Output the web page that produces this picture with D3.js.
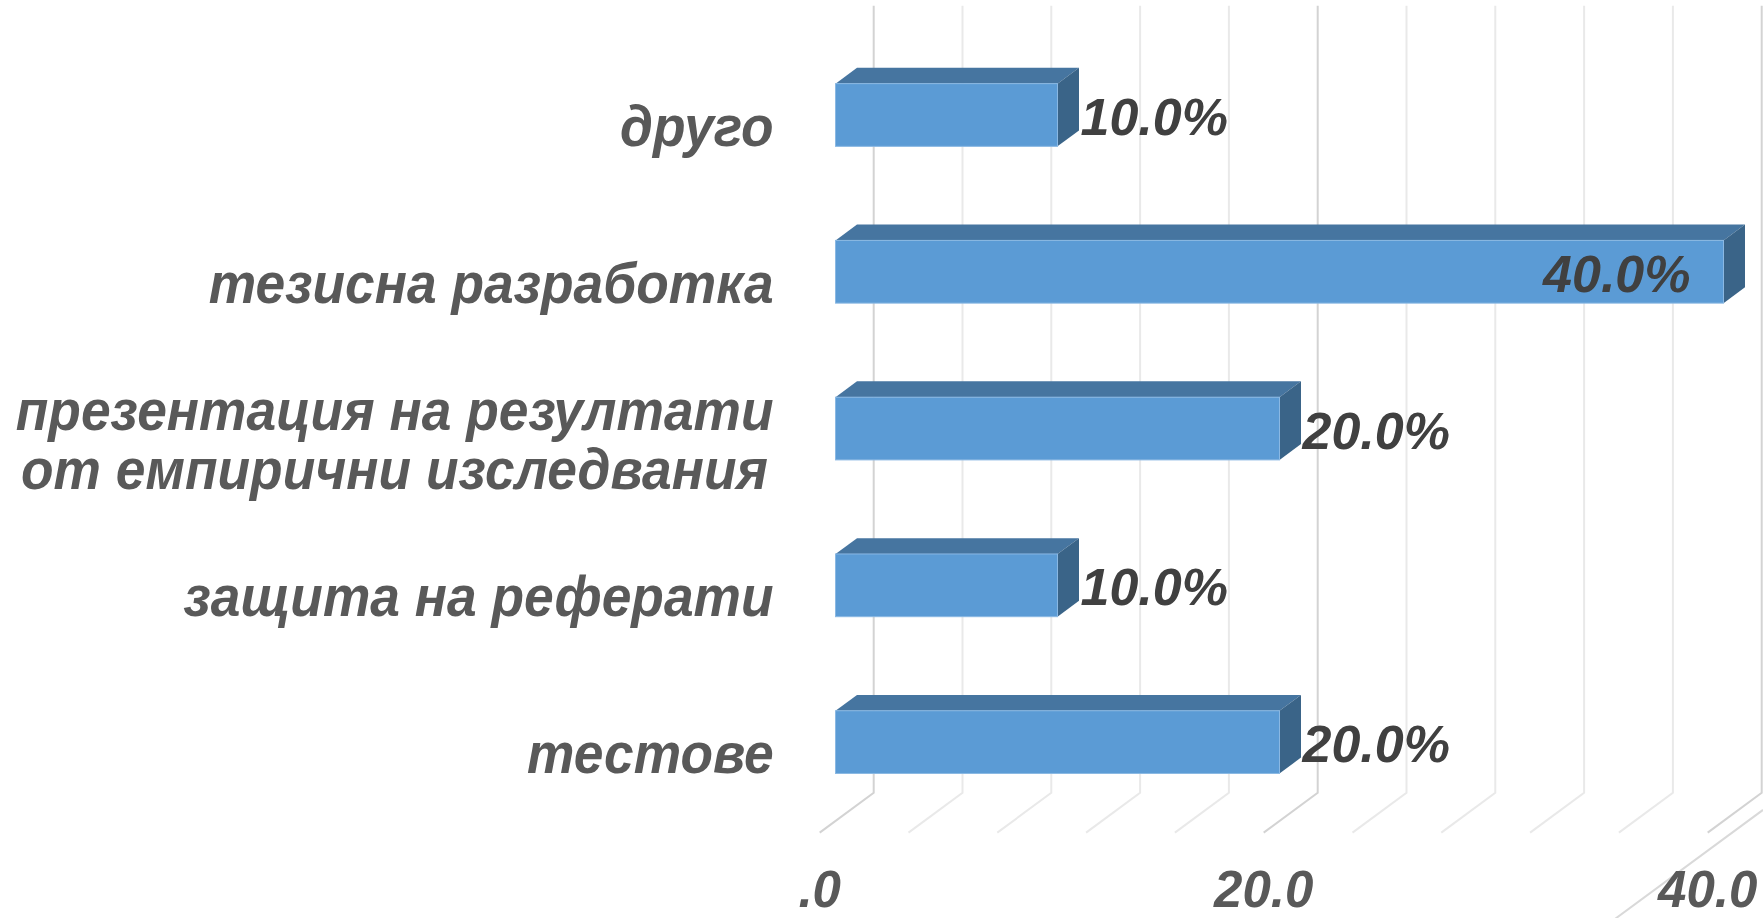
<!DOCTYPE html>
<html lang="bg">
<head>
<meta charset="utf-8">
<script src="https://cdn.jsdelivr.net/npm/d3@7"></script>
<style>
  html, body { margin: 0; padding: 0; background: #fff; }
  svg { display: block; }
  text { font-family: "Liberation Sans", Arial, sans-serif; font-weight: bold; font-style: italic; }
</style>
</head>
<body>
<div id="chart"></div>
<script>
// categories, top to bottom as drawn (one entry per line of the label)
var categories = [
  ["друго"],
  ["тезисна разработка"],
  ["презентация на резултати", "от емпирични изследвания"],
  ["защита на реферати"],
  ["тестове"]
];
var values = [10, 40, 20, 10, 20];
var tickValues = [0, 20, 40];
var gridStep = 4;

var width = 1763, height = 918;

// front plane of the bars
var x = d3.scaleLinear().domain([0, 40]).range([835.5, 1723.5]);
var y = d3.scaleBand()
  .domain(d3.range(categories.length))
  .range([36.6, 820.5])
  .paddingInner(0.6)
  .paddingOuter(0.3);

// oblique 3d: depth z moves right and up
var depthK = 0.737;
var barDepth = 21.5, wallZ = 38.2, floorFrontZ = -15.8;
var wallTopY = 34, floorY = 821;
function px(xx, z) { return xx + z; }
function py(yy, z) { return yy - z * depthK; }

var svg = d3.select("#chart").append("svg")
  .attr("width", width)
  .attr("height", height);

// gridlines on back wall + floor
var grid = svg.append("g");
grid.selectAll("path.grid")
  .data(d3.range(0, 40 + gridStep / 2, gridStep))
  .enter()
  .append("path")
  .attr("class", "grid")
  .attr("d", function (v) {
    var gx = x(v);
    return "M" + px(gx, wallZ) + "," + py(wallTopY, wallZ) +
      "L" + px(gx, wallZ) + "," + py(floorY, wallZ) +
      "L" + px(gx, floorFrontZ) + "," + py(floorY, floorFrontZ);
  })
  .attr("fill", "none")
  .attr("stroke", function (v) { return v % 20 === 0 ? "#d3d3d3" : "#e9e9e9"; })
  .attr("stroke-width", 2);

// floor edge at the right end
grid.append("line")
  .attr("x1", px(x(40), 39.5)).attr("y1", py(floorY + 18, 39.5))
  .attr("x2", px(x(40), -200)).attr("y2", py(floorY + 18, -200))
  .attr("stroke", "#d9d9d9")
  .attr("stroke-width", 2);

// bars
var bars = svg.selectAll("g.bar")
  .data(values)
  .enter()
  .append("g")
  .attr("class", "bar");

bars.append("polygon")
  .attr("points", function (d, i) {
    var y0 = y(i), x0 = x(0), x1 = x(d);
    return [[x0, y0], [x1, y0], [px(x1, barDepth), py(y0, barDepth)], [px(x0, barDepth), py(y0, barDepth)]].join(" ");
  })
  .attr("fill", "#4675a0");

bars.append("polygon")
  .attr("points", function (d, i) {
    var y0 = y(i), y1 = y(i) + y.bandwidth(), x1 = x(d);
    return [[x1, y0], [px(x1, barDepth), py(y0, barDepth)], [px(x1, barDepth), py(y1, barDepth)], [x1, y1]].join(" ");
  })
  .attr("fill", "#3a6488");

bars.append("rect")
  .attr("x", x(0))
  .attr("y", function (d, i) { return y(i); })
  .attr("width", function (d) { return x(d) - x(0); })
  .attr("height", y.bandwidth())
  .attr("fill", "#5b9bd5")
  .attr("stroke", "#8ab8e3")
  .attr("stroke-width", 1);

// data labels (inside end when there is no room outside)
function inside(d) { return x(d) + 170 > width; }
bars.append("text")
  .attr("x", function (d) { return inside(d) ? x(d) - 33 : x(d) + 23; })
  .attr("y", function (d, i) { return y(i) + y.bandwidth() / 2 + 20; })
  .attr("text-anchor", function (d) { return inside(d) ? "end" : "start"; })
  .attr("font-size", 52)
  .attr("fill", "#404040")
  .text(function (d) { return d3.format(".1f")(d) + "%"; });

// category labels
var lineH = 58.4;
svg.selectAll("g.cat")
  .data(categories)
  .enter()
  .append("g")
  .attr("class", "cat")
  .each(function (lines, i) {
    var cy = y(i) + y.bandwidth() / 2 + 31 - (lines.length - 1) * lineH / 2;
    d3.select(this).selectAll("text")
      .data(lines)
      .enter()
      .append("text")
      .attr("transform", function (t, j) {
        return "translate(" + (j > 0 ? 768 : 773.6) + "," + (cy + j * lineH) + ") scale(0.92,1)";
      })
      .attr("text-anchor", "end")
      .attr("font-size", 58)
      .attr("fill", "#595959")
      .text(function (t) { return t; });
  });

// value axis labels, on the front edge of the floor
var fmt = function (v) { return d3.format(".1f")(v).replace(/^0\./, "."); };
svg.selectAll("text.tick")
  .data(tickValues)
  .enter()
  .append("text")
  .attr("class", "tick")
  .attr("x", function (v) { return px(x(v), floorFrontZ); })
  .attr("y", 907)
  .attr("text-anchor", "middle")
  .attr("font-size", 51)
  .attr("fill", "#595959")
  .text(fmt);
</script>
</body>
</html>
